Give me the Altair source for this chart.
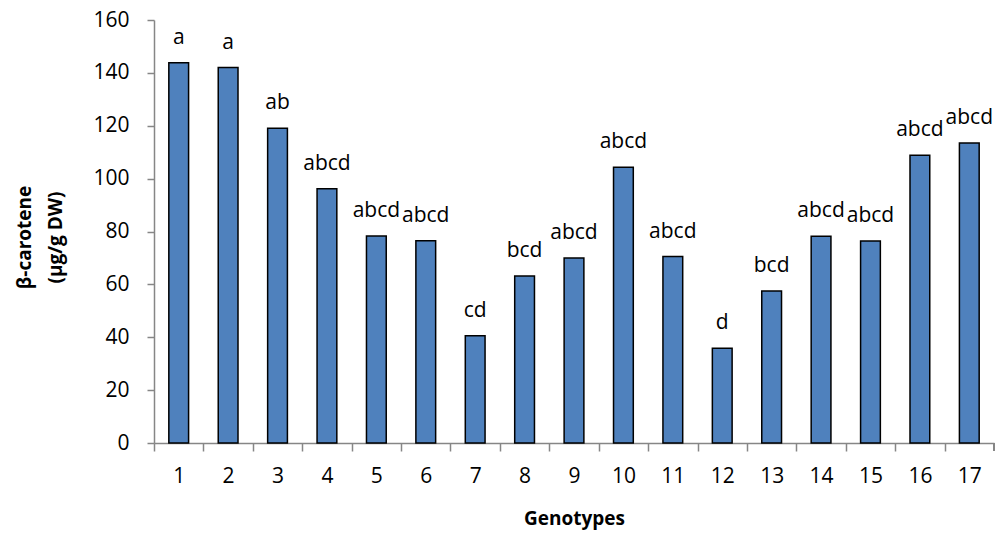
import altair as alt
import pandas as pd

# Beta-carotene content per genotype with significance letters
genotypes = [str(i) for i in range(1, 18)]
beta_carotene = [143.8, 142.0, 119.1, 96.2, 78.3, 76.5, 40.6, 63.2, 70.0,
                 104.3, 70.5, 35.8, 57.5, 78.2, 76.4, 108.8, 113.5]
letters = ["a", "a", "ab", "abcd", "abcd", "abcd", "cd", "bcd", "abcd",
           "abcd", "abcd", "d", "bcd", "abcd", "abcd", "abcd", "abcd"]

df = pd.DataFrame({"genotype": genotypes, "value": beta_carotene, "letter": letters})

FONT = "Open Sans"
AXIS_GRAY = "#868686"
W, H = 840, 423
STEP = W / 17

x = alt.X(
    "genotype:N",
    sort=genotypes,
    scale=alt.Scale(paddingInner=0.6, paddingOuter=0.3),
    axis=alt.Axis(
        title="Genotypes",
        labelAngle=0,
        labelFont=FONT,
        labelFontSize=21,
        labelColor="black",
        labelPadding=14,
        tickOffset=-STEP / 2,
        labelOffset=STEP / 2,
        tickSize=8,
        tickColor=AXIS_GRAY,
        domainColor=AXIS_GRAY,
        tickWidth=1.5,
        domainWidth=1.5,
        titleFont=FONT,
        titleFontSize=19,
        titleFontWeight="bold",
        titleColor="black",
        titlePadding=23,
    ),
)

y = alt.Y(
    "value:Q",
    scale=alt.Scale(domain=[0, 160], nice=False),
    axis=alt.Axis(
        title=["β-carotene", "(µg/g DW)"],
        values=list(range(0, 161, 20)),
        grid=False,
        labelFont=FONT,
        labelFontSize=21,
        labelColor="black",
        labelPadding=18,
        tickSize=7,
        tickColor=AXIS_GRAY,
        domainColor=AXIS_GRAY,
        tickWidth=1.5,
        domainWidth=1.5,
        titleFont=FONT,
        titleFontSize=19,
        titleFontWeight="bold",
        titleColor="black",
        titleAngle=270,
        titleAlign="center",
        titleBaseline="middle",
        titleLineHeight=31,
        titleX=-130,
        titleY=217,
    ),
)

bars = alt.Chart(df).mark_bar(
    color="#4F81BD", stroke="black", strokeWidth=1.5
).encode(x=x, y=y)

labels = alt.Chart(df).mark_text(
    baseline="alphabetic", dy=-19, font=FONT, fontSize=21, color="black"
).encode(x=alt.X("genotype:N", sort=genotypes), y="value:Q", text="letter:N")

# closing tick at the right end of the category axis
end_tick = alt.Chart(df).mark_rule(color=AXIS_GRAY, strokeWidth=1.5).encode(
    x=alt.value(W), y=alt.value(H), y2=alt.value(H + 8)
)

chart = (
    alt.layer(bars, labels, end_tick)
    .properties(
        width=W,
        height=H,
        padding={"left": 154, "top": 20, "right": 1, "bottom": 90},
        autosize=alt.AutoSizeParams(type="none"),
        background="white",
    )
    .configure_view(stroke=None)
)

chart.save("out.html", embed_options={"renderer": "svg", "actions": False})
